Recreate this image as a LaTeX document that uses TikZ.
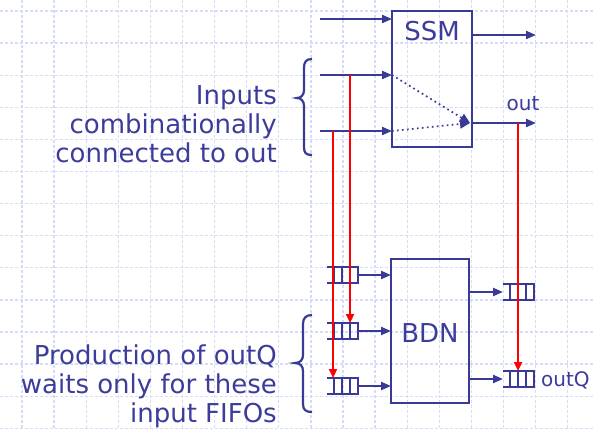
\documentclass[tikz,border=0pt]{standalone}
\usepackage{fontspec}
\setmainfont{DejaVu Sans}
\usetikzlibrary{arrows.meta}
\definecolor{ink}{RGB}{56,58,150}
\definecolor{txtc}{RGB}{60,60,155}
\definecolor{gridc}{RGB}{212,220,250}
\newcommand\fifodraw[1]{%
  \draw[wire] (#1.north west) -- (#1.north east) -- (#1.south east) -- (#1.south west);
  \foreach \d in {7,15,23}{\draw[wire] ([xshift=\d pt]#1.north west) -- ([xshift=\d pt]#1.south west);}
}
\begin{document}
\begin{tikzpicture}[x=1pt,y=-1pt,
  wire/.style={draw=ink, line width=2.2pt},
  arr/.style={wire, -{Triangle[length=10pt,width=8pt]}},
  redarr/.style={draw=red, line width=2.2pt, -{Triangle[length=9pt,width=8pt]}},
  dotarr/.style={draw=ink, line width=1.7pt, dash pattern=on 1.7pt off 3.3pt, -{Triangle[length=10pt,width=9pt]}},
  blk/.style={draw=ink, line width=2.2pt, inner sep=0pt, outer sep=0pt},
  fifobox/.style={minimum width=31pt, minimum height=16pt, inner sep=0pt, outer sep=0pt},
  big/.style={text=txtc, inner sep=0pt, font=\fontsize{26}{29}\selectfont},
  small/.style={text=txtc, inner sep=0pt, font=\fontsize{20}{24}\selectfont},
  gridl/.style={draw=gridc, line width=1.3pt, dash pattern=on 3pt off 2pt},
  brace/.style={draw=ink, line width=2.2pt}
]
\useasboundingbox (0,0) rectangle (594,429);
\fill[white] (0,0) rectangle (594,429);
% grid
\foreach \i in {0,...,17}{\draw[gridl] (22+32.1*\i,0) -- (22+32.1*\i,429);}
\foreach \j in {0,...,13}{\draw[gridl] (0,11+32.1*\j) -- (594,11+32.1*\j);}

% SSM block
\node[blk, minimum width=80pt, minimum height=136pt] (ssm) at (432,79) {};
\node[big] (ssmt) at (432,31) {SSM};
% BDN block
\node[blk, minimum width=78pt, minimum height=144pt] (bdn) at (430,331) {};
\node[big] (bdnt) at (430,333) {BDN};

% SSM inputs / outputs
\coordinate (s1) at (320,19);
\coordinate (s2) at (320,75);
\coordinate (s3) at (320,131);
\coordinate (o1) at (536,35);
\coordinate (o2) at (536,123);
\coordinate (dj) at (470,123);
\draw[arr] (s1) -- (s1 -| ssm.west);
\draw[arr] (s2) -- (s2 -| ssm.west);
\draw[arr] (s3) -- (s3 -| ssm.west);
\draw[arr] (o1 -| ssm.east) -- (o1);
\draw[arr] (o2 -| ssm.east) -- (o2);
\draw[dotarr] (s2 -| ssm.west) -- (dj);
\draw[dotarr] (s3 -| ssm.west) -- (dj);
\node[small] (outl) at (523,104) {out};

% FIFOs
\node[fifobox] (f1) at (342.5,275) {};
\node[fifobox] (f2) at (342.5,331) {};
\node[fifobox] (f3) at (342.5,386) {};
\node[fifobox] (g1) at (518.5,292) {};
\node[fifobox] (g2) at (518.5,379) {};
\fifodraw{f1}\fifodraw{f2}\fifodraw{f3}\fifodraw{g1}\fifodraw{g2}
\draw[arr] (f1.east) -- (f1.east -| bdn.west);
\draw[arr] (f2.east) -- (f2.east -| bdn.west);
\draw[arr] (f3.east) -- (f3.east -| bdn.west);
\draw[arr] (g1.west -| bdn.east) -- (g1.west);
\draw[arr] (g2.west -| bdn.east) -- (g2.west);
\node[small, anchor=west] (outq) at (541,380) {outQ};

% red dependencies
\coordinate (t2) at (350,75);
\coordinate (t3) at (333,131);
\coordinate (t4) at (518,123);
\draw[redarr] (t2) -- (t2 |- f2.north);
\draw[redarr] (t3) -- (t3 |- f3.north);
\draw[redarr] (t4) -- (t4 |- g2.north);

% braces
\draw[brace] (312,59) .. controls (306,59) and (304,62) .. (304,68) -- (304,90)
  .. controls (304,95) and (301,98) .. (297,98) .. controls (301,98) and (304,101) .. (304,106)
  -- (304,147) .. controls (304,153) and (306,155) .. (312,155);
\draw[brace] (312,315) .. controls (306,315) and (303,318) .. (303,324) -- (303,355)
  .. controls (303,360) and (300,363) .. (295,363) .. controls (300,363) and (303,366) .. (303,371)
  -- (303,404) .. controls (303,410) and (306,412) .. (312,412);

% texts
\node[big, align=right, anchor=east] (txt1) at (277,124) {Inputs\\combinationally\\connected to out};
\node[big, align=right, anchor=east] (txt2) at (277,386) {Production of outQ\\waits only for these\\input FIFOs};
\end{tikzpicture}
\end{document}
